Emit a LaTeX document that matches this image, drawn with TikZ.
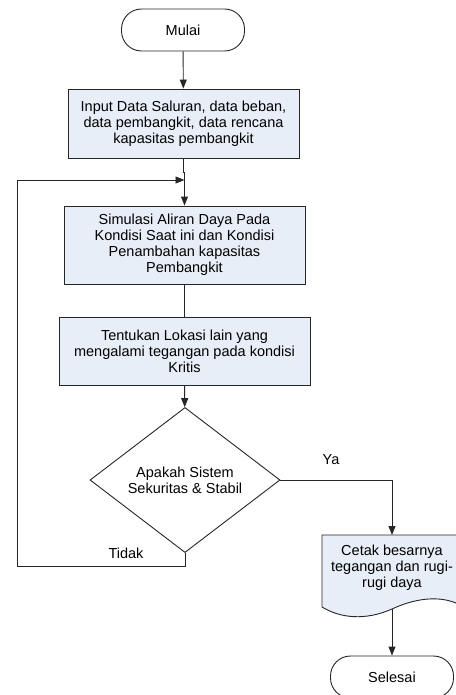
\documentclass[tikz,border=0pt]{standalone}
\usepackage{fontspec}
\setmainfont{Liberation Sans}
\usetikzlibrary{shapes.geometric,arrows.meta}
\definecolor{boxfill}{RGB}{232,238,248}
\tikzset{
  every node/.style={font=\fontsize{14.5}{16}\selectfont},
  line/.style={draw=black!85,line width=0.9pt},
  arr/.style={line,-{Triangle[length=9pt,width=7pt]}},
  terminal/.style={line,rounded corners=20pt,minimum width=123pt,minimum height=42pt},
  process/.style={line,fill=boxfill,align=center,inner sep=2pt},
  decision/.style={line,diamond,align=center,inner sep=1pt,minimum width=190pt,minimum height=96pt}
}
\begin{document}
\begin{tikzpicture}[x=1pt,y=-1pt]
\useasboundingbox (0,0) rectangle (455,695);
% nodes
\node[terminal] (mulai) at (183,30) {Mulai};
\node[process,minimum width=231pt,minimum height=69pt] (input) at (183.5,123.5)
  {Input Data Saluran, data beban,\\data pembangkit, data rencana\\kapasitas pembangkit};
\node[process,minimum width=241pt,minimum height=78pt] (simulasi) at (184.5,245)
  {Simulasi Aliran Daya Pada\\Kondisi Saat ini dan Kondisi\\Penambahan kapasitas\\Pembangkit};
\node[process,minimum width=251pt,minimum height=68pt] (lokasi) at (184.5,351)
  {Tentukan Lokasi lain yang\\mengalami tegangan pada kondisi\\Kritis};
\node[decision] (cek) at (185,480) {Apakah Sistem\\Sekuritas \& Stabil};
% document shape
\draw[line,fill=boxfill] (322,535) -- (462,535) -- (462,606)
  .. controls (445,596) and (420,596) .. (392,609)
  .. controls (365,621) and (340,618) .. (322,607) -- cycle;
\node[align=center] (cetak) at (392,568) {Cetak besarnya\\tegangan dan rugi-\\rugi daya};
\coordinate (cetaktop) at (392,535);
\coordinate (cetakbot) at (392,609);
\node[terminal] (selesai) at (392,677) {Selesai};
% connectors
\coordinate (gabung) at (184.5,180);
\coordinate (tidak) at (185,566);
\coordinate (kiri) at (17,566);
\coordinate (kiriatas) at (17,180);
\draw[arr] (mulai) -- (input);
\draw[line] (input.south) -- (183.5,172) -- (184.5,172) -- (gabung);
\draw[arr] (gabung) -- (simulasi);
\draw[line] (simulasi) -- (lokasi);
\draw[arr] (lokasi) -- (cek);
\draw[arr] (cek.east) -| (cetaktop);
\draw[arr] (cetakbot) -- (selesai);
\draw[arr] (cek.south) -- (tidak) -- (kiri) -- (kiriatas) -- (gabung);
\node (ya) at (331,460) {Ya};
\node (tdk) at (126,553) {Tidak};
\end{tikzpicture}
\end{document}
